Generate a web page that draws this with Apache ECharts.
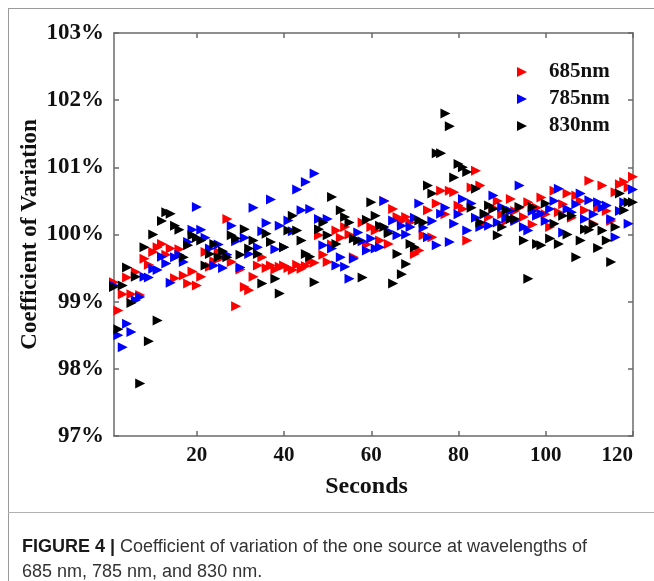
<!DOCTYPE html>
<html><head><meta charset="utf-8">
<script src="https://cdn.jsdelivr.net/npm/echarts@6/dist/echarts.min.js"></script>
<style>html,body{margin:0;padding:0;background:#fff}#c{width:654px;height:581px}</style>
</head><body><div id="c"></div>
<script>
const seconds = [1,2,3,4,5,6,7,8,9,10,11,12,13,14,15,16,17,18,19,20,21,22,23,24,25,26,27,28,29,30,31,32,33,34,35,36,37,38,39,40,41,42,43,44,45,46,47,48,49,50,51,52,53,54,55,56,57,58,59,60,61,62,63,64,65,66,67,68,69,70,71,72,73,74,75,76,77,78,79,80,81,82,83,84,85,86,87,88,89,90,91,92,93,94,95,96,97,98,99,100,101,102,103,104,105,106,107,108,109,110,111,112,113,114,115,116,117,118,119,120];
const xTicks = [20,40,60,80,100,120];
const seriesNames = ['685nm','785nm','830nm'];
const nm685 = [99.29,98.87,99.11,99.36,99.11,99.44,99.10,99.64,99.55,99.74,99.81,99.86,99.70,99.79,99.35,99.78,99.39,99.27,99.45,99.24,
99.37,99.74,99.52,99.60,99.74,99.66,100.23,99.59,98.93,99.48,99.22,99.17,99.37,99.54,99.66,99.50,99.54,99.48,99.52,99.54,
99.50,99.47,99.55,99.49,99.53,99.60,99.58,99.99,99.70,99.59,99.85,100.06,99.95,100.11,100.00,99.66,99.91,100.18,99.85,100.11,
100.06,99.91,100.50,99.86,100.38,100.26,100.20,100.26,100.18,99.71,99.76,99.99,100.36,99.96,100.46,100.65,100.30,100.65,100.63,100.43,
100.38,99.91,100.70,100.95,100.73,100.15,100.26,100.40,100.50,100.30,100.20,100.53,100.35,100.40,100.26,100.48,100.15,100.40,100.55,100.30,
100.11,100.65,100.33,100.45,100.61,100.25,100.58,100.50,100.36,100.80,100.16,100.40,100.73,100.35,100.20,100.63,100.75,100.78,100.70,100.86];
const nm785 = [99.24,98.50,98.32,98.67,98.55,99.02,99.07,99.37,99.36,99.49,99.47,99.67,99.57,99.28,99.66,99.70,99.59,99.89,100.07,100.41,
100.07,99.95,99.79,99.54,99.85,99.50,99.70,100.13,99.90,99.51,99.95,99.71,100.40,99.81,100.05,100.17,100.52,99.78,100.13,99.81,
100.21,100.05,100.67,100.36,100.78,100.38,100.91,100.23,99.84,100.23,99.79,99.54,99.66,99.52,99.34,99.64,100.03,99.90,99.76,99.94,
99.79,99.81,100.50,100.05,100.21,99.99,100.13,100.00,100.11,100.25,100.46,100.10,99.96,100.20,99.84,100.31,100.40,99.89,100.16,100.30,
100.53,100.06,100.46,100.25,100.11,100.30,100.13,100.58,100.18,100.41,100.25,100.35,100.20,100.73,100.11,100.06,100.35,100.28,100.31,100.20,
100.38,100.50,100.68,100.03,100.38,100.33,100.45,100.61,100.23,100.51,100.30,100.48,100.40,100.43,100.23,99.96,100.35,100.48,100.16,100.67];
const nm830 = [99.22,98.59,99.24,99.51,98.98,99.37,97.78,99.81,98.41,100.00,98.72,100.20,100.33,100.31,100.13,100.07,99.66,99.84,99.99,99.95,
99.91,99.54,99.71,99.86,99.66,99.75,99.66,99.99,99.94,99.70,100.08,99.79,99.91,99.71,99.27,100.01,99.89,99.34,99.12,99.81,
100.06,100.28,100.06,99.91,99.71,99.67,99.29,100.08,100.18,99.99,100.56,99.86,100.36,100.26,100.18,99.94,99.91,99.36,100.22,100.48,
100.28,100.13,100.11,100.02,99.27,99.71,99.41,99.56,99.86,99.81,100.21,100.18,100.73,100.61,101.21,101.21,101.80,101.61,100.85,101.05,
101.00,100.93,100.40,100.68,100.18,100.31,100.43,100.38,99.99,100.11,100.36,100.23,100.23,100.41,99.91,99.34,100.41,99.86,99.84,100.46,
99.94,100.16,99.86,100.28,100.00,100.28,99.66,99.91,100.08,100.07,100.15,99.80,100.06,99.91,99.59,100.11,100.61,100.36,100.48,100.48];
const seriesValues = [nm685, nm785, nm830];
const seriesColors = ['#ff0000', '#0000ff', '#000000'];

const serif = 'Liberation Serif';
const axisCol = '#6a6a6a';
const rightTri = 'path://M0,0L10,5L0,10Z';
function pair(vals){ return seconds.map((s,i)=>[s, vals[i]]); }
const chart = echarts.init(document.getElementById('c'), null, {renderer:'canvas'});
const baseX = {
  type:'value', min:1, max:120,
  axisLine:{show:true, onZero:false, lineStyle:{color:axisCol, width:1.5}},
  axisTick:{show:true, inside:true, length:5, customValues:xTicks, lineStyle:{color:axisCol, width:1.5}},
  splitLine:{show:false}
};
const baseY = {
  type:'value', min:97, max:103, interval:1,
  axisLine:{show:true, onZero:false, lineStyle:{color:axisCol, width:1.5}},
  axisTick:{show:true, inside:true, length:5, lineStyle:{color:axisCol, width:1.5}},
  splitLine:{show:false}
};
chart.setOption({
  animation:false,
  backgroundColor:'#ffffff',
  grid:{left:114, right:21, top:33, bottom:145, containLabel:false},
  xAxis:[
    Object.assign({}, baseX, {position:'bottom',
      axisLabel:{customValues:xTicks, fontFamily:serif, fontWeight:'bold', fontSize:21, color:'#111', margin:9, alignMaxLabel:'right'},
      name:'Seconds', nameLocation:'middle', nameGap:39, nameMoveOverlap:false,
      nameTextStyle:{fontFamily:serif, fontWeight:'bold', fontSize:24, color:'#111', padding:[0,14,0,0]}}),
    Object.assign({}, baseX, {position:'top', axisLabel:{show:false}})
  ],
  yAxis:[
    Object.assign({}, baseY, {position:'left',
      axisLabel:{formatter:v=>v+'%', fontFamily:serif, fontWeight:'bold', fontSize:23, color:'#111', margin:10},
      name:'Coefficient of Variation', nameLocation:'middle', nameGap:72, nameRotate:90, nameMoveOverlap:false,
      nameTextStyle:{fontFamily:serif, fontWeight:'bold', fontSize:23, color:'#111'}}),
    Object.assign({}, baseY, {position:'right', axisLabel:{show:false}})
  ],
  legend:{
    orient:'vertical', left:512, top:56, itemWidth:10, itemHeight:10, itemGap:5,
    data:seriesNames.map(n=>({name:n, icon:rightTri})),
    textStyle:{fontFamily:serif, fontWeight:'bold', fontSize:21, color:'#111', padding:[0,0,0,17], lineHeight:22}
  },
  series: seriesNames.map((n,k)=>({
    name:n, type:'scatter', symbol:'triangle', symbolSize:[10,10], symbolRotate:-90,
    itemStyle:{color:seriesColors[k], opacity:1},
    data:pair(seriesValues[k])
  })),
  graphic:[
    {type:'line', shape:{x1:8, y1:8.5, x2:654, y2:8.5}, style:{stroke:'#9a9a9a', lineWidth:1}},
    {type:'line', shape:{x1:8.5, y1:8, x2:8.5, y2:581}, style:{stroke:'#9a9a9a', lineWidth:1}},
    {type:'line', shape:{x1:8, y1:512.5, x2:654, y2:512.5}, style:{stroke:'#b0b0b0', lineWidth:1}},
    {type:'text', left:22, top:538, style:{
      text:'{b|FIGURE 4 |} Coefficient of variation of the one source at wavelengths of',
      fontFamily:'Liberation Sans', fontSize:18, fill:'#333',
      rich:{b:{fontFamily:'Liberation Sans', fontWeight:'bold', fontSize:18, fill:'#1a1a1a'}}}},
    {type:'text', left:22, top:563, style:{
      text:'685 nm, 785 nm, and 830 nm.',
      fontFamily:'Liberation Sans', fontSize:18, fill:'#333'}}
  ]
});
</script></body></html>
